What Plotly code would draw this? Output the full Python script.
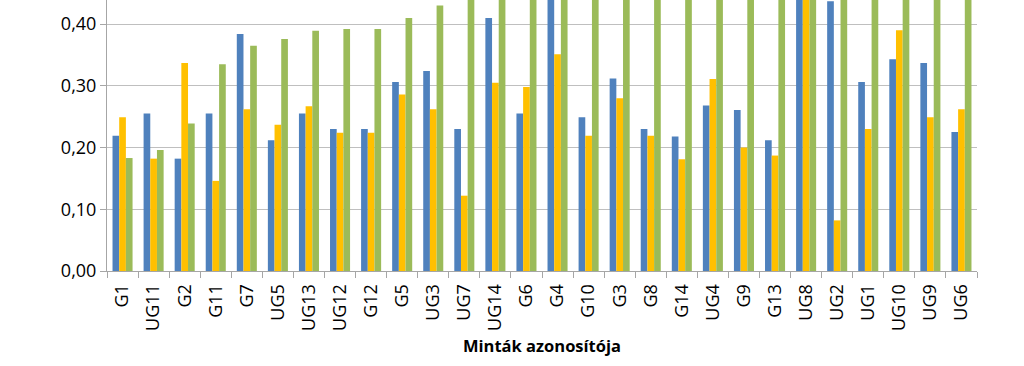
import plotly.graph_objects as go

categories = ["G1", "UG11", "G2", "G11", "G7", "UG5", "UG13", "UG12", "G12", "G5",
              "UG3", "UG7", "UG14", "G6", "G4", "G10", "G3", "G8", "G14", "UG4",
              "G9", "G13", "UG8", "UG2", "UG1", "UG10", "UG9", "UG6"]

series_blue = [0.219, 0.255, 0.182, 0.255, 0.384, 0.212, 0.255, 0.230, 0.230, 0.306,
               0.324, 0.230, 0.410, 0.255, 0.480, 0.249, 0.312, 0.230, 0.218, 0.268,
               0.261, 0.212, 0.500, 0.437, 0.306, 0.343, 0.337, 0.225]
series_yellow = [0.249, 0.182, 0.337, 0.146, 0.262, 0.237, 0.267, 0.224, 0.224, 0.286,
                 0.262, 0.122, 0.305, 0.298, 0.351, 0.219, 0.280, 0.219, 0.181, 0.311,
                 0.200, 0.187, 0.480, 0.082, 0.230, 0.390, 0.249, 0.262]
series_green = [0.183, 0.196, 0.239, 0.335, 0.365, 0.376, 0.389, 0.392, 0.392, 0.410,
                0.430, 0.450, 0.460, 0.470, 0.480, 0.490, 0.500, 0.510, 0.520, 0.530,
                0.540, 0.550, 0.560, 0.570, 0.580, 0.590, 0.600, 0.610]

y_tick_values = [0.0, 0.1, 0.2, 0.3, 0.4]
x_title = "Minták azonosítója"

colors = ["#4F81BD", "#FFC000", "#9BBB59"]

fig = go.Figure()
for vals, col in zip([series_blue, series_yellow, series_green], colors):
    fig.add_trace(go.Bar(x=categories, y=vals, marker=dict(color=col, line=dict(width=0)),
                         showlegend=False))

font_family = "Open Sans, sans-serif"
fig.update_layout(
    width=1024, height=366,
    margin=dict(l=107, r=47, t=0, b=95),
    barmode="group", bargap=0.355, bargroupgap=0.0,
    plot_bgcolor="white", paper_bgcolor="white",
    separators=", ",
    font=dict(family=font_family, size=18, color="#000000"),
    xaxis=dict(
        type="category", tickangle=-90, tickson="boundaries",
        ticks="outside", ticklen=6, tickcolor="#A6A6A6",
        showline=True, linecolor="#A6A6A6", linewidth=1,
        showgrid=False, tickfont=dict(size=18), automargin=False,
        ticklabelstandoff=5,
        title=dict(text="<b>" + x_title + "</b>", font=dict(size=16.5), standoff=10),
    ),
    yaxis=dict(
        range=[0, 0.439], tickvals=y_tick_values, tickformat=".2f",
        ticks="outside", ticklen=6, tickcolor="#A6A6A6",
        showline=True, linecolor="#A6A6A6", linewidth=1,
        showgrid=True, gridcolor="#BFBFBF", gridwidth=1,
        zeroline=False, tickfont=dict(size=18), automargin=False,
    ),
)

fig.write_html("out.html", config={"displayModeBar": False},
               post_script="document.body.style.margin='0';")
